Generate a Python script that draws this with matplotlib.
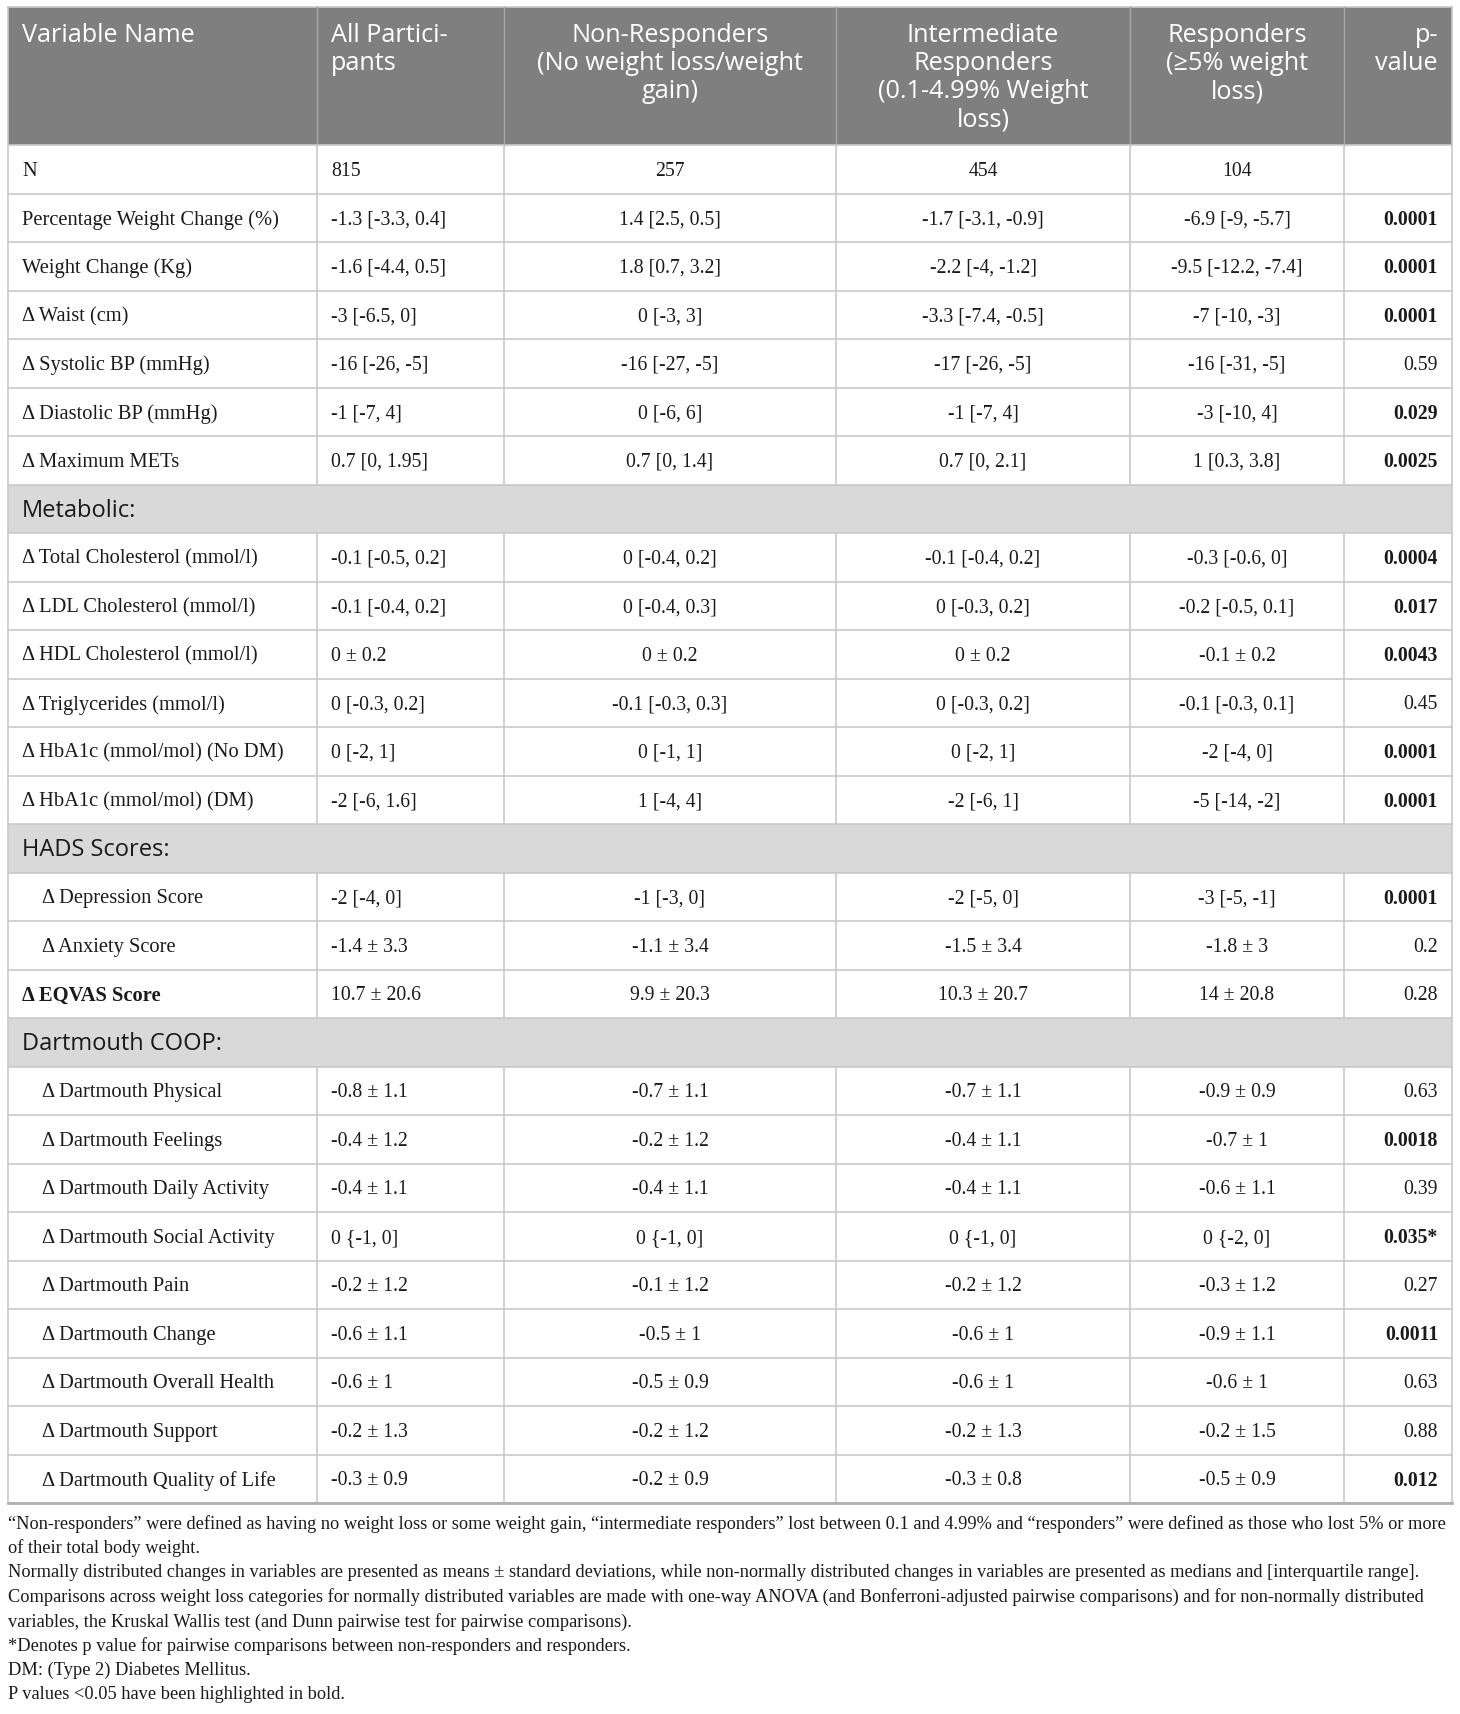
import matplotlib
matplotlib.use("Agg")
import matplotlib.pyplot as plt
from matplotlib.patches import Rectangle

# ---- table content ----
header_labels = [
    "Variable Name",
    "All Partici-\npants",
    "Non-Responders\n(No weight loss/weight\ngain)",
    "Intermediate\nResponders\n(0.1-4.99% Weight\nloss)",
    "Responders\n(\u22655% weight\nloss)",
    "p-\nvalue",
]

variables = [
    "N", "Percentage Weight Change (%)", "Weight Change (Kg)", "\u0394 Waist (cm)",
    "\u0394 Systolic BP (mmHg)", "\u0394 Diastolic BP (mmHg)", "\u0394 Maximum METs",
    "Metabolic:",
    "\u0394 Total Cholesterol (mmol/l)", "\u0394 LDL Cholesterol (mmol/l)",
    "\u0394 HDL Cholesterol (mmol/l)", "\u0394 Triglycerides (mmol/l)",
    "\u0394 HbA1c (mmol/mol) (No DM)", "\u0394 HbA1c (mmol/mol) (DM)",
    "HADS Scores:",
    "\u0394 Depression Score", "\u0394 Anxiety Score", "\u0394 EQVAS Score",
    "Dartmouth COOP:",
    "\u0394 Dartmouth Physical", "\u0394 Dartmouth Feelings", "\u0394 Dartmouth Daily Activity",
    "\u0394 Dartmouth Social Activity", "\u0394 Dartmouth Pain", "\u0394 Dartmouth Change",
    "\u0394 Dartmouth Overall Health", "\u0394 Dartmouth Support", "\u0394 Dartmouth Quality of Life",
]

# data / section / indent / bold
row_kind = [
    "data", "data", "data", "data", "data", "data", "data",
    "section",
    "data", "data", "data", "data", "data", "data",
    "section",
    "indent", "indent", "bold",
    "section",
    "indent", "indent", "indent", "indent", "indent", "indent", "indent", "indent", "indent",
]

all_participants = [
    "815", "-1.3 [-3.3, 0.4]", "-1.6 [-4.4, 0.5]", "-3 [-6.5, 0]", "-16 [-26, -5]", "-1 [-7, 4]",
    "0.7 [0, 1.95]", "",
    "-0.1 [-0.5, 0.2]", "-0.1 [-0.4, 0.2]", "0 \u00b1 0.2", "0 [-0.3, 0.2]", "0 [-2, 1]", "-2 [-6, 1.6]", "",
    "-2 [-4, 0]", "-1.4 \u00b1 3.3", "10.7 \u00b1 20.6", "",
    "-0.8 \u00b1 1.1", "-0.4 \u00b1 1.2", "-0.4 \u00b1 1.1", "0 {-1, 0]", "-0.2 \u00b1 1.2",
    "-0.6 \u00b1 1.1", "-0.6 \u00b1 1", "-0.2 \u00b1 1.3", "-0.3 \u00b1 0.9",
]
non_responders = [
    "257", "1.4 [2.5, 0.5]", "1.8 [0.7, 3.2]", "0 [-3, 3]", "-16 [-27, -5]", "0 [-6, 6]",
    "0.7 [0, 1.4]", "",
    "0 [-0.4, 0.2]", "0 [-0.4, 0.3]", "0 \u00b1 0.2", "-0.1 [-0.3, 0.3]", "0 [-1, 1]", "1 [-4, 4]", "",
    "-1 [-3, 0]", "-1.1 \u00b1 3.4", "9.9 \u00b1 20.3", "",
    "-0.7 \u00b1 1.1", "-0.2 \u00b1 1.2", "-0.4 \u00b1 1.1", "0 {-1, 0]", "-0.1 \u00b1 1.2",
    "-0.5 \u00b1 1", "-0.5 \u00b1 0.9", "-0.2 \u00b1 1.2", "-0.2 \u00b1 0.9",
]
intermediate = [
    "454", "-1.7 [-3.1, -0.9]", "-2.2 [-4, -1.2]", "-3.3 [-7.4, -0.5]", "-17 [-26, -5]", "-1 [-7, 4]",
    "0.7 [0, 2.1]", "",
    "-0.1 [-0.4, 0.2]", "0 [-0.3, 0.2]", "0 \u00b1 0.2", "0 [-0.3, 0.2]", "0 [-2, 1]", "-2 [-6, 1]", "",
    "-2 [-5, 0]", "-1.5 \u00b1 3.4", "10.3 \u00b1 20.7", "",
    "-0.7 \u00b1 1.1", "-0.4 \u00b1 1.1", "-0.4 \u00b1 1.1", "0 {-1, 0]", "-0.2 \u00b1 1.2",
    "-0.6 \u00b1 1", "-0.6 \u00b1 1", "-0.2 \u00b1 1.3", "-0.3 \u00b1 0.8",
]
responders = [
    "104", "-6.9 [-9, -5.7]", "-9.5 [-12.2, -7.4]", "-7 [-10, -3]", "-16 [-31, -5]", "-3 [-10, 4]",
    "1 [0.3, 3.8]", "",
    "-0.3 [-0.6, 0]", "-0.2 [-0.5, 0.1]", "-0.1 \u00b1 0.2", "-0.1 [-0.3, 0.1]", "-2 [-4, 0]", "-5 [-14, -2]", "",
    "-3 [-5, -1]", "-1.8 \u00b1 3", "14 \u00b1 20.8", "",
    "-0.9 \u00b1 0.9", "-0.7 \u00b1 1", "-0.6 \u00b1 1.1", "0 {-2, 0]", "-0.3 \u00b1 1.2",
    "-0.9 \u00b1 1.1", "-0.6 \u00b1 1", "-0.2 \u00b1 1.5", "-0.5 \u00b1 0.9",
]
p_values = [
    "", "0.0001", "0.0001", "0.0001", "0.59", "0.029", "0.0025", "",
    "0.0004", "0.017", "0.0043", "0.45", "0.0001", "0.0001", "",
    "0.0001", "0.2", "0.28", "",
    "0.63", "0.0018", "0.39", "0.035*", "0.27", "0.0011", "0.63", "0.88", "0.012",
]

footnotes = [
    "\u201cNon-responders\u201d were defined as having no weight loss or some weight gain, \u201cintermediate responders\u201d lost between 0.1 and 4.99% and \u201cresponders\u201d were defined as those who lost 5% or more",
    "of their total body weight.",
    "Normally distributed changes in variables are presented as means \u00b1 standard deviations, while non-normally distributed changes in variables are presented as medians and [interquartile range].",
    "Comparisons across weight loss categories for normally distributed variables are made with one-way ANOVA (and Bonferroni-adjusted pairwise comparisons) and for non-normally distributed",
    "variables, the Kruskal Wallis test (and Dunn pairwise test for pairwise comparisons).",
    "*Denotes p value for pairwise comparisons between non-responders and responders.",
    "DM: (Type 2) Diabetes Mellitus.",
    "P values <0.05 have been highlighted in bold.",
]

# ---- layout (pixels) ----
W, H = 1460, 1715
col_edges = [8, 317, 504, 836, 1130, 1344, 1452]
top, head_bot, row_h = 8, 146, 48.5
pad = 14

HEAD_BG = "#7f7f7f"
SEC_BG = "#d9d9d9"
GRID = "#c9c9c9"
TXT = "#1a1a1a"
SANS = ["Open Sans", "DejaVu Sans"]
SERIF = ["Liberation Serif", "DejaVu Serif"]

fig = plt.figure(figsize=(W / 100, H / 100), dpi=100)
ax = fig.add_axes([0, 0, 1, 1])
ax.set_xlim(0, W)
ax.set_ylim(H, 0)
ax.axis("off")

columns = [variables, all_participants, non_responders, intermediate, responders, p_values]
n_rows = len(variables)
bottom = head_bot + n_rows * row_h

# header
ax.add_patch(Rectangle((col_edges[0], top), col_edges[-1] - col_edges[0], head_bot - top,
                       facecolor=HEAD_BG, edgecolor="none", zorder=0))
for j, lab in enumerate(header_labels):
    l, r = col_edges[j], col_edges[j + 1]
    if j <= 1:
        x, ha, ma = l + pad, "left", "left"
    elif j == 5:
        x, ha, ma = r - pad, "right", "right"
    else:
        x, ha, ma = (l + r) / 2, "center", "center"
    ax.text(x, top + 15, lab, ha=ha, va="top", multialignment=ma, color="white",
            fontsize=18.2, family=SANS, linespacing=1.17)

# rows
for i in range(n_rows):
    y0 = head_bot + i * row_h
    yc = y0 + row_h / 2 + 1
    kind = row_kind[i]
    if kind == "section":
        ax.add_patch(Rectangle((col_edges[0], y0), col_edges[-1] - col_edges[0], row_h,
                               facecolor=SEC_BG, edgecolor="none", zorder=0))
        ax.text(col_edges[0] + pad, yc, variables[i], ha="left", va="center",
                color=TXT, fontsize=17, family=SANS)
        continue
    for j in range(6):
        l, r = col_edges[j], col_edges[j + 1]
        val = columns[j][i]
        if not val:
            continue
        weight = "normal"
        size = 14.2
        if j == 0:
            x, ha = l + pad + (20 if kind == "indent" else 0), "left"
            size = 14.8
            if kind == "bold":
                weight = "bold"
        elif j == 1:
            x, ha = l + pad, "left"
        elif j == 5:
            x, ha = r - pad, "right"
            if float(val.rstrip("*")) < 0.05:
                weight = "bold"
        else:
            x, ha = (l + r) / 2, "center"
        ax.text(x, yc, val, ha=ha, va="center", color=TXT, fontsize=size,
                family=SERIF, fontweight=weight)

# grid lines
for i in range(n_rows + 1):
    y = head_bot + i * row_h
    ax.plot([col_edges[0], col_edges[-1]], [y, y], color=GRID, lw=1.2, zorder=2)
ax.plot([col_edges[0], col_edges[-1]], [top, top], color=GRID, lw=1.2, zorder=2)
for j, x in enumerate(col_edges):
    # vertical lines, interrupted by section rows for inner columns
    if j in (0, len(col_edges) - 1):
        ax.plot([x, x], [top, bottom], color=GRID, lw=1.2, zorder=2)
        continue
    ax.plot([x, x], [top, head_bot], color="#a6a6a6", lw=1.0, zorder=2)
    start = head_bot
    for i in range(n_rows + 1):
        if i == n_rows or row_kind[i] == "section":
            end = head_bot + i * row_h
            if end > start:
                ax.plot([x, x], [start, end], color=GRID, lw=1.2, zorder=2)
            start = head_bot + (i + 1) * row_h
ax.plot([col_edges[0], col_edges[-1]], [bottom, bottom], color="#b0b0b0", lw=2.0, zorder=2)

# footnotes
fy = bottom + 20
for k, line in enumerate(footnotes):
    ax.text(col_edges[0], fy + k * 24.4, line, ha="left", va="center", color=TXT,
            fontsize=13.25, family=SERIF)

fig.savefig("out.png", dpi=100, facecolor="white")
